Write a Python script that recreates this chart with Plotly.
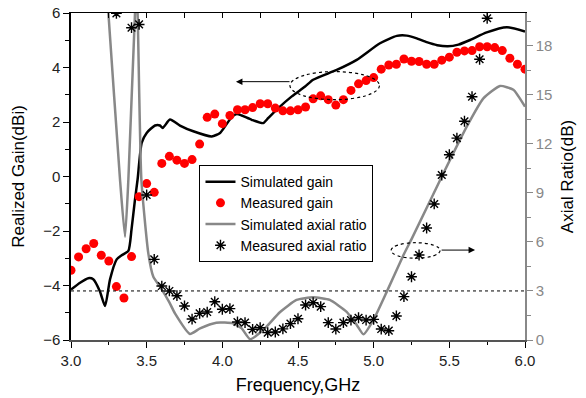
import plotly.graph_objects as go

# ---------------- data ----------------
sim_gain_f = [3.0, 3.06, 3.114, 3.147, 3.19, 3.225, 3.258, 3.302, 3.335, 3.379, 3.40, 3.423, 3.44,
              3.467, 3.50, 3.555, 3.588, 3.606, 3.654, 3.72, 3.808, 3.93, 3.985, 4.018, 4.062,
              4.095, 4.128, 4.194, 4.27, 4.304, 4.37, 4.459, 4.547, 4.60, 4.756, 4.888, 5.042,
              5.153, 5.219, 5.28, 5.35, 5.42, 5.49, 5.56, 5.637, 5.747, 5.88, 6.0]
sim_gain = [-4.15, -3.9, -3.73, -3.77, -4.2, -4.75, -3.77, -3.04, -2.89, -2.73, -1.94, -0.84, -0.11,
            1.23, 1.6, 1.87, 1.87, 1.78, 2.09, 1.87, 1.66, 1.47, 1.6, 1.84, 2.18,
            2.29, 2.24, 2.08, 1.96, 2.15, 2.51, 2.94, 3.3, 3.55, 3.91, 4.28, 4.89,
            5.16, 5.17, 5.08, 4.93, 4.82, 4.78, 4.84, 5.01, 5.29, 5.48, 5.32]

meas_gain_f = [3.00, 3.05, 3.10, 3.15, 3.20, 3.25, 3.30, 3.35, 3.40, 3.45, 3.50, 3.55, 3.60, 3.65,
               3.70, 3.75, 3.80, 3.85, 3.90, 3.95, 4.00, 4.05, 4.10, 4.15, 4.20, 4.25, 4.30, 4.35,
               4.40, 4.45, 4.50, 4.55, 4.60, 4.65, 4.70, 4.75, 4.80, 4.85, 4.90, 4.95, 5.00, 5.05,
               5.10, 5.15, 5.20, 5.25, 5.30, 5.35, 5.40, 5.45, 5.50, 5.55, 5.60, 5.65, 5.70, 5.75,
               5.80, 5.85, 5.90, 5.95, 6.00]
meas_gain = [-3.44, -2.95, -2.65, -2.46, -2.89, -3.10, -4.04, -4.46, -2.94, -0.74, -0.26, -0.58, 0.48, 0.74,
             0.60, 0.48, 0.62, 1.19, 2.17, 2.29, 1.94, 2.24, 2.45, 2.45, 2.53, 2.67, 2.67, 2.51,
             2.41, 2.41, 2.45, 2.55, 2.85, 2.96, 2.82, 2.62, 2.82, 3.16, 3.40, 3.52, 3.63, 3.94,
             4.09, 4.12, 4.31, 4.23, 4.22, 4.12, 4.12, 4.27, 4.38, 4.56, 4.61, 4.62, 4.76, 4.76,
             4.73, 4.62, 4.34, 4.12, 3.94]

sim_ar_f = [3.22, 3.247, 3.324, 3.357, 3.379, 3.423, 3.432, 3.44, 3.465, 3.511, 3.544, 3.588, 3.65,
            3.687, 3.786, 3.853, 3.96, 4.07, 4.128, 4.183, 4.27, 4.38, 4.49, 4.60, 4.71, 4.82,
            4.888, 4.932, 4.998, 5.087, 5.197, 5.252, 5.461, 5.615, 5.725, 5.835, 5.923, 6.0]
sim_ar = [23.5, 20.0, 9.8, 6.3, 9.8, 20.0, 21.2, 20.0, 9.8, 5.3, 3.87, 3.26, 2.3,
          1.63, 0.37, 0.71, 1.06, 1.02, 0.71, 0.05, 0.61, 1.7, 2.45, 2.61, 2.45, 1.73,
          0.92, 0.35, 1.22, 2.96, 5.2, 6.2, 10.2, 13.05, 14.78, 15.54, 15.3, 14.27]

meas_ar_f = [3.30, 3.40, 3.45, 3.50, 3.55, 3.60, 3.65, 3.70, 3.75, 3.80, 3.85, 3.90, 3.95, 4.00,
             4.05, 4.10, 4.15, 4.20, 4.25, 4.30, 4.35, 4.40, 4.45, 4.50, 4.55, 4.60, 4.65, 4.70,
             4.75, 4.80, 4.85, 4.90, 4.95, 5.00, 5.05, 5.10, 5.15, 5.20, 5.25, 5.30, 5.35, 5.40,
             5.45, 5.50, 5.55, 5.60, 5.65, 5.70, 5.75]
meas_ar = [19.98, 19.1, 19.3, 8.87, 4.93, 3.30, 3.0, 2.71, 2.08, 1.28, 1.63, 1.71, 2.34, 1.88,
           1.92, 1.10, 1.06, 0.65, 0.75, 0.45, 0.49, 0.68, 1.00, 1.30, 2.14, 2.28, 2.04, 1.06,
           0.67, 1.06, 1.22, 1.36, 1.22, 1.26, 0.67, 0.57, 1.47, 2.65, 3.87, 5.20, 6.85, 8.32,
           10.09, 11.33, 12.35, 13.38, 14.88, 17.17, 19.68]

ar_threshold = 3
x_ticks = [3.0, 3.5, 4.0, 4.5, 5.0, 5.5, 6.0]
gain_ticks = [-6, -4, -2, 0, 2, 4, 6]
ar_ticks = [0, 3, 6, 9, 12, 15, 18]

FONT = "Liberation Sans, Arial, sans-serif"
GRAY = "#888888"

fig = go.Figure()
fig.add_trace(go.Scatter(x=sim_gain_f, y=sim_gain, mode="lines", name="Simulated gain",
                         line=dict(color="black", width=2.5, shape="spline", smoothing=0.6)))
fig.add_trace(go.Scatter(x=meas_gain_f, y=meas_gain, mode="markers", name="Measured gain",
                         marker=dict(color="red", size=9, symbol="circle")))
fig.add_trace(go.Scatter(x=sim_ar_f, y=sim_ar, mode="lines", name="Simulated axial ratio",
                         yaxis="y2",
                         line=dict(color=GRAY, width=2.5, shape="spline", smoothing=0.5)))
fig.add_trace(go.Scatter(x=meas_ar_f, y=meas_ar, mode="markers", name="Measured axial ratio",
                         yaxis="y2",
                         marker=dict(color="black", size=9, symbol="asterisk-open",
                                     line=dict(color="black", width=1.4))))
# empty trace to bring the top axis (inside ticks) into existence
fig.add_trace(go.Scatter(x=[], y=[], xaxis="x2", yaxis="y", showlegend=False, hoverinfo="skip"))

fig.update_layout(
    width=586, height=398,
    margin=dict(l=71, r=61, t=13, b=58, autoexpand=False),
    paper_bgcolor="white", plot_bgcolor="white",
    font=dict(family=FONT, color="black", size=15),
    showlegend=True,
    legend=dict(x=0.283, y=0.535, xanchor="left", yanchor="top",
                bordercolor="black", borderwidth=1, bgcolor="white",
                font=dict(size=14, family=FONT), itemwidth=30, tracegroupgap=0),
    xaxis=dict(range=[3, 6], showgrid=False, zeroline=False, showline=True, automargin=False,
               linecolor="#555555", linewidth=2, ticks="outside", ticklen=6, tickwidth=1,
               tickcolor="black", tickvals=x_ticks, tickformat=".1f",
               tickfont=dict(size=15, color="#222"),
               minor=dict(ticks="outside", dtick=0.25, ticklen=3, tickcolor="black"),
               title=dict(text="Frequency,GHz", font=dict(size=18), standoff=10)),
    xaxis2=dict(range=[3, 6], overlaying="x", side="top", anchor="y", showgrid=False,
                zeroline=False, showline=True, linecolor="black", linewidth=1.3, automargin=False,
                ticks="inside", ticklen=5, tickcolor="black", dtick=0.25, tick0=3,
                showticklabels=False),
    yaxis=dict(range=[-6, 6], showgrid=False, zeroline=False, showline=True, automargin=False,
               linecolor="black", linewidth=1.5, ticks="outside", ticklen=6, tickcolor="black",
               tickvals=gain_ticks, tickfont=dict(size=15, color="#222"),
               minor=dict(ticks="outside", dtick=1, ticklen=4, tickcolor="black"),
               title=dict(text="Realized Gain(dBi)", font=dict(size=17), standoff=14)),
    yaxis2=dict(range=[0, 20], overlaying="y", side="right", showgrid=False, zeroline=False,
                showline=True, linecolor=GRAY, linewidth=1.5, ticks="outside", ticklen=6,
                automargin=False,
                tickcolor=GRAY, tickvals=ar_ticks, tickfont=dict(size=15, color=GRAY),
                minor=dict(ticks="outside", dtick=1.5, ticklen=4, tickcolor=GRAY),
                title=dict(text="Axial Ratio(dB)", font=dict(size=17, color="black"), standoff=10)),
)

# 3 dB axial-ratio reference line
fig.add_shape(type="line", xref="x", yref="y2", x0=3, x1=6, y0=ar_threshold, y1=ar_threshold,
              line=dict(color="black", width=1, dash="dot"))
# dotted ellipses
fig.add_shape(type="circle", xref="x", yref="y", x0=4.447, x1=5.038, y0=2.82, y1=3.85,
              line=dict(color="black", width=1.2, dash="dot"))
fig.add_shape(type="circle", xref="x", yref="y2", x0=5.115, x1=5.439, y0=5.0, y1=5.95,
              line=dict(color="black", width=1.2, dash="dot"))
# arrows
fig.add_annotation(x=4.09, y=3.48, xref="x", yref="y", ax=4.454, ay=3.48, axref="x", ayref="y",
                   text="", showarrow=True, arrowhead=2, arrowsize=1.3, arrowwidth=1,
                   arrowcolor="black")
fig.add_annotation(x=5.67, y=5.5, xref="x", yref="y2", ax=5.439, ay=5.5, axref="x", ayref="y2",
                   text="", showarrow=True, arrowhead=2, arrowsize=1.3, arrowwidth=1,
                   arrowcolor="black")

fig.write_html("out.html")
